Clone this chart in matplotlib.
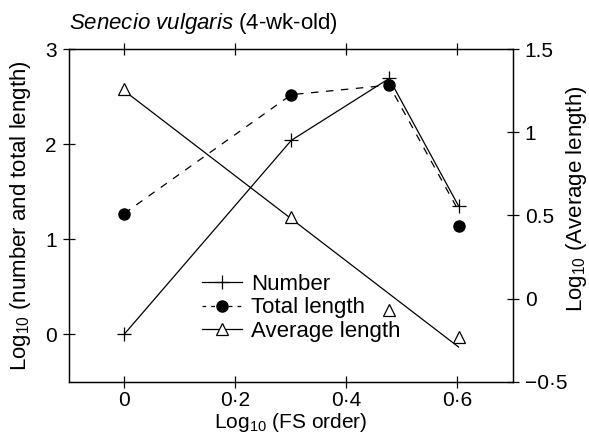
import numpy as np
import matplotlib.pyplot as plt
from matplotlib.lines import Line2D

plt.rcParams['font.family'] = ['Liberation Sans', 'DejaVu Sans']
plt.rcParams['mathtext.fontset'] = 'custom'
plt.rcParams['mathtext.rm'] = 'Liberation Sans'
plt.rcParams['mathtext.it'] = 'Liberation Sans:italic'
plt.rcParams['font.size'] = 16

# data (log10 values)
fs_order = [0.0, 0.301, 0.477, 0.602]
number = [0.0, 2.04, 2.69, 1.35]
total_length = [1.27, 2.52, 2.62, 1.14]
total_length_line = [1.27, 2.52, 2.62, 1.30]   # dashed curve ends near the cross
avg_length = [1.26, 0.49, -0.07, -0.23]
avg_fit_x = [0.0, 0.602]
avg_fit_y = [1.25, -0.29]

xticks = [0, 0.2, 0.4, 0.6]
xtick_labels = ['0', '0·2', '0·4', '0·6']
left_ticks = [0, 1, 2, 3]
right_ticks = [-0.5, 0, 0.5, 1, 1.5]
right_labels = ['\u22120·5', '0', '0.5', '1', '1.5']

fig = plt.figure(figsize=(5.89, 4.36), dpi=100)
ax = fig.add_axes([0.1163, 0.1239, 0.7547, 0.7637])
ax2 = ax.twinx()

lw = 0.9
ax.plot(fs_order, number, '-', color='black', lw=lw)
ax.plot(fs_order, number, '+', color='black', ms=10, mew=lw)
ax.plot(fs_order, total_length_line, color='black', lw=lw, ls=(0, (6, 6)))
ax.plot(fs_order, total_length, 'o', color='black', ms=8)

ax2.plot(avg_fit_x, avg_fit_y, '-', color='black', lw=lw)
ax2.plot(fs_order, avg_length, '^', mfc='white', mec='black', ms=8, mew=lw)

ax.set_xlim(-0.1, 0.7)
ax.set_ylim(-0.5, 3)
ax2.set_ylim(-0.5, 1.5)

ax.set_xticks(xticks)
ax.set_xticklabels(xtick_labels)
ax.set_yticks(left_ticks)
ax2.set_yticks(right_ticks)
ax2.set_yticklabels(right_labels)

ax.tick_params(direction='inout', length=9, width=0.9, top=True, pad=4, labelsize=15)
ax.tick_params(axis='x', pad=2)
ax2.tick_params(direction='inout', length=9, width=0.9, pad=4, labelsize=15)
for a in (ax, ax2):
    for s in a.spines.values():
        s.set_linewidth(0.9)

ax.set_xlabel(r'Log$_{\mathregular{10}}$ (FS order)', fontsize=15)
ax.set_ylabel(r'Log$_{\mathregular{10}}$ (number and total length)')
ax2.set_ylabel(r'Log$_{\mathregular{10}}$ (Average length)')
ax.xaxis.set_label_coords(0.5, -0.088)
ax.yaxis.set_label_coords(-0.08, 0.5)
ax2.yaxis.set_label_coords(1.115, 0.55)

fig.text(0.117, 0.945, r'$\it{Senecio\ vulgaris}$ (4-wk-old)', ha='left', va='center')

handles = [
    Line2D([], [], color='black', lw=lw, marker='+', ms=10, mew=lw),
    Line2D([], [], color='black', lw=lw, ls=(0, (3, 4)), marker='o', ms=8),
    Line2D([], [], color='black', lw=lw, marker='^', mfc='white', mec='black', ms=8, mew=lw),
]
ax2.legend(handles, ['Number', 'Total length', 'Average length'], loc='upper left',
           bbox_to_anchor=(0.30, 0.325), frameon=False, borderpad=0, borderaxespad=0,
           handlelength=1.8, handletextpad=0.4, labelspacing=0.12, numpoints=1)

fig.savefig('out.png', dpi=100)
